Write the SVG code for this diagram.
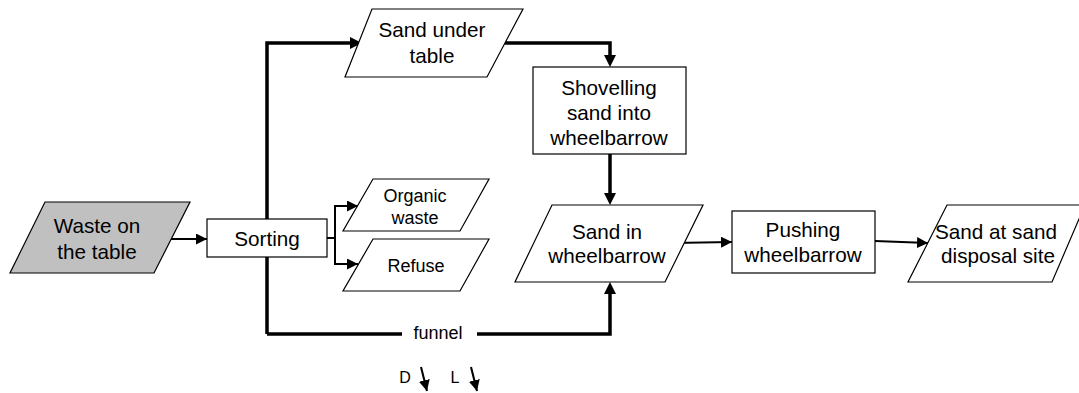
<svg xmlns="http://www.w3.org/2000/svg" width="1079" height="393" viewBox="0 0 1079 393">
<defs>
<style>
.shape{fill:#fff;stroke:#000;stroke-width:1.2}
.gray{fill:#c0c0c0}
.t{font-family:"Liberation Sans",Arial,sans-serif;fill:#000;text-anchor:middle}
.big{font-size:20.7px}
.small{font-size:18px}
.tiny{font-size:16px}
.thin{fill:none;stroke:#000;stroke-width:2}
.thick{fill:none;stroke:#000;stroke-width:3.5}
</style>
<marker id="ah" viewBox="0 0 10 10" refX="10" refY="5" markerWidth="5.5" markerHeight="5.5" markerUnits="strokeWidth" orient="auto">
<path d="M0,0 L10,5 L0,10 z" fill="#000"/>
</marker>
</defs>
<g id="connectors">
<path class="thin" d="M171,239 L207,239" marker-end="url(#ah)"/>
<path class="thin" d="M327,238 L335,238 M335,206 L335,264"/>
<path class="thin" d="M334,206 L358,206" marker-end="url(#ah)"/>
<path class="thin" d="M334,264 L358,264" marker-end="url(#ah)"/>
<path class="thick" d="M267,334 L267,43 L352,43"/>
<path d="M350,37 L362,43 L350,49 z" fill="#000"/>
<path class="thick" d="M505,43 L610,43 L610,57"/>
<path d="M604,55 L610,67 L616,55 z" fill="#000"/>
<path class="thick" d="M610,154 L610,195"/>
<path d="M604,193 L610,205 L616,193 z" fill="#000"/>
<path class="thick" d="M267,334 L402,334 M477,334 L610,334 L610,292"/>
<path d="M604,294 L610,282 L616,294 z" fill="#000"/>
<path class="thin" d="M672,243 L732,242" marker-end="url(#ah)"/>
<path class="thin" d="M875,241 L928,243" marker-end="url(#ah)"/>
<path class="thin" d="M421,367 L427,391" marker-end="url(#ah)"/>
<path class="thin" d="M471,367 L477,391" marker-end="url(#ah)"/>
</g>
<text class="t small" x="438" y="339">funnel</text>
<text class="t tiny" x="405" y="383">D</text>
<text class="t tiny" x="455" y="383">L</text>
<g id="waste">
<polygon class="shape gray" points="45,202 190,202 154,273 10,273"/>
<text class="t big" x="97" y="233">Waste on</text>
<text class="t big" x="97" y="259">the table</text>
</g>
<g id="sorting">
<rect class="shape" x="207" y="219" width="120" height="38"/>
<text class="t big" x="267" y="246">Sorting</text>
</g>
<g id="organic">
<polygon class="shape" points="373,179 489,179 460,231 343,231"/>
<text class="t small" x="415" y="202">Organic</text>
<text class="t small" x="415" y="224">waste</text>
</g>
<g id="refuse">
<polygon class="shape" points="373,239 489,239 460,291 343,291"/>
<text class="t small" x="416" y="272">Refuse</text>
</g>
<g id="sand-under-table">
<polygon class="shape" points="372,9 523,9 487,77 345,77"/>
<text class="t big" x="432" y="37">Sand under</text>
<text class="t big" x="432" y="63">table</text>
</g>
<g id="shovelling">
<rect class="shape" x="533" y="67" width="153" height="87"/>
<text class="t big" x="609" y="95">Shovelling</text>
<text class="t big" x="609" y="120">sand into</text>
<text class="t big" x="609" y="145">wheelbarrow</text>
</g>
<g id="sand-in-wheelbarrow">
<polygon class="shape" points="552,205 703,205 665,282 515,282"/>
<text class="t big" x="607" y="239">Sand in</text>
<text class="t big" x="607" y="263">wheelbarrow</text>
</g>
<g id="pushing">
<rect class="shape" x="732" y="211" width="143" height="62"/>
<text class="t big" x="803" y="237">Pushing</text>
<text class="t big" x="803" y="262">wheelbarrow</text>
</g>
<g id="sand-disposal">
<polygon class="shape" points="947,205 1085,205 1052,282 908,282"/>
<text class="t big" x="996" y="239">Sand at sand</text>
<text class="t big" x="998" y="263">disposal site</text>
</g>
</svg>
